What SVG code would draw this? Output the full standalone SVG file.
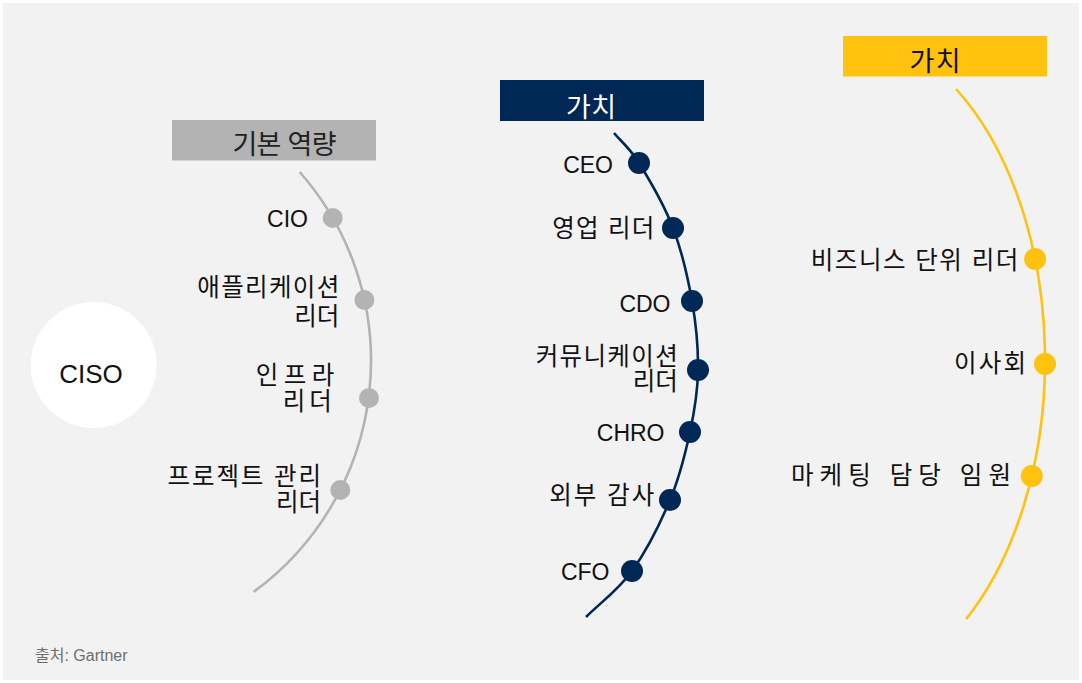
<svg xmlns="http://www.w3.org/2000/svg" width="1082" height="683" viewBox="0 0 1082 683">
<style>
text{font-family:"Liberation Sans","Noto Sans CJK KR",Arial,sans-serif;fill:#111;}
.lbl{font-size:23px;}
.ko{font-size:24.5px;}
.lab-end{text-anchor:end;}
.head{font-size:27px;text-anchor:middle;}
.arc{fill:none;stroke-width:2.6;}
.g{fill:#b3b3b3;}
.n{fill:#002856;}
.y{fill:#ffc20e;}
</style>
<rect x="0" y="0" width="1082" height="683" fill="#ffffff"/>
<rect x="3" y="3" width="1076" height="677" fill="#f2f2f2"/>

<g id="connectors">
  <path class="arc" stroke="#b3b3b3" d="M 299.7 172 A 286 286 0 0 1 253.6 592"/>
  <path class="arc" stroke="#002856" d="M 614 133 C 622.3 143 629.2 147.2 639 163 C 648.8 178.8 664.2 205 673 228 C 681.8 251 687.8 277.3 692 301 C 696.2 324.7 698.3 348.2 698 370 C 697.7 391.8 694.7 410.3 690 432 C 685.3 453.7 679.7 476.8 670 500 C 660.3 523.2 646 551.5 632 571 C 618 590.5 601.3 601.7 586 617"/>
  <path class="arc" stroke="#ffc20e" d="M 956.1 89 A 207 330 0 0 1 966.3 619"/>
</g>

<g id="ciso">
  <circle cx="93.7" cy="365" r="63" fill="#ffffff"/>
  <text x="91" y="383" style="font-size:26px;text-anchor:middle">CISO</text>
</g>

<g id="header-basic">
  <rect x="172" y="120" width="204" height="40.5" class="g"/>
  <text class="head" x="284.5" y="153.5" textLength="104" lengthAdjust="spacing" style="fill:#222">기본 역량</text>
</g>
<g id="header-value-navy">
  <rect x="500" y="80" width="204" height="41" class="n"/>
  <text class="head" x="591" y="116.5" textLength="50" lengthAdjust="spacing" style="fill:#ffffff">가치</text>
</g>
<g id="header-value-yellow">
  <rect x="843" y="36" width="204" height="40.5" class="y"/>
  <text class="head" x="935" y="71" textLength="51" lengthAdjust="spacing" style="fill:#111">가치</text>
</g>

<g id="node-cio">
  <circle cx="332.7" cy="218" r="10" class="g"/>
  <text class="lbl lab-end" x="308" y="226.5">CIO</text>
</g>
<g id="node-app">
  <circle cx="364.4" cy="300" r="10" class="g"/>
  <text class="ko lab-end" x="339.3" y="295.5" textLength="142" lengthAdjust="spacing">애플리케이션</text>
  <text class="ko lab-end" x="339.3" y="324.5" textLength="45" lengthAdjust="spacing">리더</text>
</g>
<g id="node-infra">
  <circle cx="369" cy="398" r="10" class="g"/>
  <text class="ko lab-end" x="334.3" y="383.5" textLength="78.5" lengthAdjust="spacing">인프라</text>
  <text class="ko lab-end" x="331.7" y="410" textLength="49" lengthAdjust="spacing">리더</text>
</g>
<g id="node-project">
  <circle cx="340.3" cy="490" r="10" class="g"/>
  <text class="ko lab-end" x="321" y="485" textLength="153.5" lengthAdjust="spacing">프로젝트 관리</text>
  <text class="ko lab-end" x="321" y="511" textLength="45" lengthAdjust="spacing">리더</text>
</g>

<g id="node-ceo">
  <circle cx="639" cy="163" r="11" class="n"/>
  <text class="lbl lab-end" x="613" y="172.5">CEO</text>
</g>
<g id="node-sales">
  <circle cx="673" cy="228" r="11" class="n"/>
  <text class="ko lab-end" x="654.3" y="236.7" textLength="102" lengthAdjust="spacing">영업 리더</text>
</g>
<g id="node-cdo">
  <circle cx="692" cy="301" r="11" class="n"/>
  <text class="lbl lab-end" x="670.5" y="311.5">CDO</text>
</g>
<g id="node-comm">
  <circle cx="698" cy="370" r="11" class="n"/>
  <text class="ko lab-end" x="677.7" y="365" textLength="142" lengthAdjust="spacing">커뮤니케이션</text>
  <text class="ko lab-end" x="677.7" y="390" textLength="45" lengthAdjust="spacing">리더</text>
</g>
<g id="node-chro">
  <circle cx="690" cy="432" r="11" class="n"/>
  <text class="lbl lab-end" x="664.5" y="440.5">CHRO</text>
</g>
<g id="node-audit">
  <circle cx="670" cy="500" r="11" class="n"/>
  <text class="ko lab-end" x="654.3" y="503.5" textLength="105" lengthAdjust="spacing">외부 감사</text>
</g>
<g id="node-cfo">
  <circle cx="632" cy="571" r="11" class="n"/>
  <text class="lbl lab-end" x="609.5" y="580">CFO</text>
</g>

<g id="node-bu">
  <circle cx="1035.1" cy="259" r="11" class="y"/>
  <text class="ko lab-end" x="1018.3" y="268.5" textLength="207.5" lengthAdjust="spacing">비즈니스 단위 리더</text>
</g>
<g id="node-board">
  <circle cx="1045" cy="364" r="11" class="y"/>
  <text class="ko lab-end" x="1026" y="371.8" textLength="72" lengthAdjust="spacing">이사회</text>
</g>
<g id="node-marketing">
  <circle cx="1031.8" cy="476" r="11" class="y"/>
  <text class="ko lab-end" x="1011" y="483.5" textLength="220" lengthAdjust="spacing">마케팅 담당 임원</text>
</g>

<g id="footer">
  <text x="35" y="661" style="font-size:16px;fill:#6e6e6e">출처: Gartner</text>
</g>
</svg>
